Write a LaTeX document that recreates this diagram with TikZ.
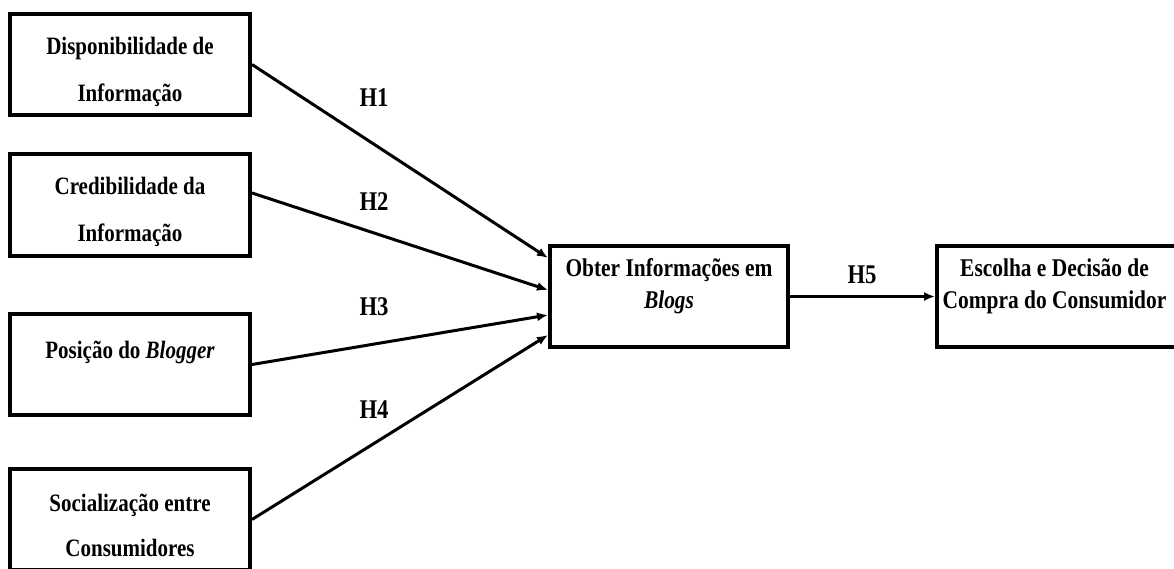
\documentclass[tikz,border=0pt]{standalone}
\usepackage{fontspec}
\setmainfont{Liberation Serif}[FakeStretch=0.84]
\usetikzlibrary{arrows.meta, positioning}

\begin{document}
\begin{tikzpicture}[x=1pt, y=-1pt,
  box/.style={draw, line width=4pt, minimum width=240pt, minimum height=101pt, inner sep=0pt},
  txt/.style={align=center, font=\bfseries\fontsize{25}{47}\selectfont},
  txtb/.style={align=center, font=\bfseries\fontsize{25.5}{32}\selectfont},
  hyp/.style={font=\bfseries\fontsize{27}{30}\selectfont},
  link/.style={-{Latex[length=11pt,width=9pt]}, line width=3pt}]
\useasboundingbox (0,0) rectangle (1174,569);

% factor boxes
\node[box] (dispo) at (130,64.5) {};
\node[box] (cred) at (130,205) {};
\node[box] (posic) at (130,364.5) {};
\node[box] (social) at (130,519.5) {};
\node[box, minimum width=238pt] (obter) at (669,296.5) {};
\node[box, minimum width=243pt] (escolha) at (1058.5,296.5) {};

% texts
\node[txt] (dispoT) at ([yshift=-7pt]dispo.center) {Disponibilidade de\\Informação};
\node[txt] (credT) at ([yshift=-7pt]cred.center) {Credibilidade da\\Informação};
\node[txt] (posicT) at ([yshift=12pt]posic.center) {Posição do \textit{Blogger}};
\node[txt, font=\bfseries\fontsize{25}{45}\selectfont] (socialT) at ([yshift=-6pt]social.center) {Socialização entre\\Consumidores};
\node[txtb] (obterT) at ([yshift=10pt]obter.center) {Obter Informações em\\\textit{Blogs}};
\node[txtb] (escolhaT) at ([yshift=10pt,xshift=-4pt]escolha.center) {Escolha e Decisão de\\Compra do Consumidor};

% hypotheses
\draw[link] (dispo.east) -- ([yshift=38.5pt]obter.west);
\draw[link] ([yshift=12pt]cred.east) -- ([yshift=6.5pt]obter.west);
\draw[link] (posic.east) -- ([yshift=-18.5pt]obter.west);
\draw[link] (social.east) -- ([yshift=-38.5pt]obter.west);
\draw[link] (obter.east) -- (escolha.west);

\node[hyp] (h1) at (374,98) {H1};
\node[hyp] (h2) at (374,202) {H2};
\node[hyp] (h3) at (374,307) {H3};
\node[hyp] (h4) at (374,410) {H4};
\node[hyp] (h5) at (862,275) {H5};
\end{tikzpicture}
\end{document}
